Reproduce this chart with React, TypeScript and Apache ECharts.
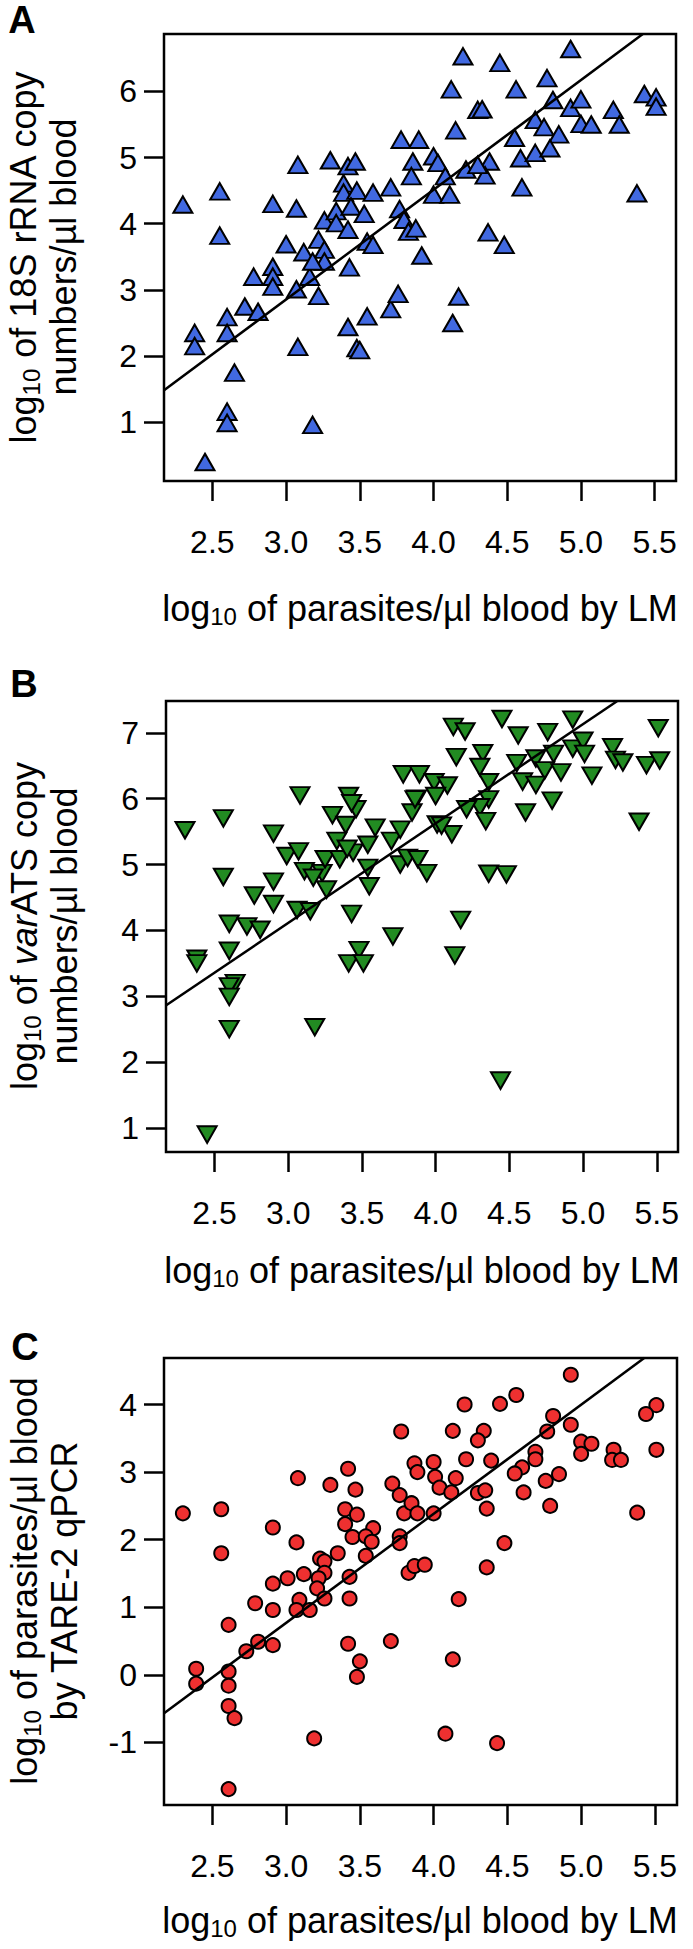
import React, { useEffect, useRef } from 'react';
import * as echarts from 'echarts';

// ---------- tick values ----------
const xTicks = [2.5, 3.0, 3.5, 4.0, 4.5, 5.0, 5.5];
const yTicksA = [1, 2, 3, 4, 5, 6];
const yTicksB = [1, 2, 3, 4, 5, 6, 7];
const yTicksC = [-1, 0, 1, 2, 3, 4];

// ---------- Panel A: 18S rRNA ----------
const aX = [2.30, 2.55, 2.55, 2.38, 2.38, 2.60, 2.60, 2.65, 2.60, 2.60, 2.45, 2.72, 2.81, 2.78, 2.91, 2.91, 2.91, 2.91, 3.07, 3.08, 3.00, 3.12, 3.07, 3.08, 3.18, 3.16, 3.22, 3.22, 3.26, 3.26, 3.18, 3.26, 3.30, 3.34, 3.34, 3.39, 3.39, 3.42, 3.47, 3.48, 3.44, 3.53, 3.42, 3.43, 3.42, 3.48, 3.50, 3.55, 3.55, 3.59, 3.59, 3.71, 3.71, 3.76, 3.78, 3.86, 3.85, 3.77, 3.80, 3.83, 3.92,
  3.90, 4.00, 4.03, 4.08, 4.00, 4.11, 3.88, 4.20, 4.45, 4.12, 4.56, 4.77, 4.93, 4.81, 4.93, 5.00, 4.30, 4.33, 4.15, 4.69, 4.75, 4.55, 4.85, 5.00, 5.07, 5.22, 5.26, 5.43, 5.51, 5.51, 4.59, 4.69, 4.79, 4.38, 4.35, 4.22, 4.30, 4.60, 5.38, 4.37, 4.48, 4.17, 4.13];
const aY = [4.29, 4.49, 3.82, 2.35, 2.15, 2.59, 2.35, 1.75, 1.16, 0.99, 0.40, 2.75, 2.67, 3.20, 3.35, 3.20, 3.05, 4.30, 4.23, 4.89, 3.69, 3.57, 3.01, 2.14, 0.96, 3.20, 2.91, 3.76, 3.61, 3.43, 3.43, 4.05, 4.96, 4.19, 4.01, 4.61, 4.47, 4.87, 4.94, 4.50, 4.26, 4.15, 3.91, 3.34, 2.44, 2.12, 2.09, 2.60, 3.73, 3.68, 4.47, 4.55, 2.71, 2.94, 5.27, 4.94, 4.72, 4.22, 4.06, 3.88, 3.52,
  5.27, 5.02, 4.92, 4.72, 4.44, 4.44, 3.93, 6.53, 6.43, 6.03, 6.03, 6.20, 6.64, 5.87, 5.75, 5.88, 5.72, 5.73, 5.41, 5.57, 5.46, 5.30, 5.35, 5.51, 5.50, 5.72, 5.50, 5.96, 5.91, 5.77, 4.99, 5.07, 5.14, 4.94, 4.73, 4.82, 4.89, 4.55, 4.46, 3.87, 3.68, 2.90, 2.50];
const aFitX = [2.17, 5.42];
const aFitY = [1.48, 6.867];

// ---------- Panel B: varATS ----------
const bX = [2.30, 2.56, 2.56, 2.38, 2.38, 2.60, 2.60, 2.64, 2.60, 2.60, 2.60, 2.72, 2.81, 2.77, 2.90, 2.90, 2.90, 2.99, 3.07, 3.08, 3.11, 3.06, 3.15, 3.18, 3.23, 3.25, 3.26, 3.30, 3.35, 3.33, 3.39, 3.41, 3.46, 3.44, 3.40, 3.43, 3.48, 3.41, 3.51, 3.54, 3.59, 3.54, 3.55, 3.71, 3.70, 3.76, 3.76, 3.78, 3.87, 3.81, 3.84, 3.43, 3.17,
  4.12, 4.20, 4.45, 4.56, 4.76, 4.93, 5.51, 4.14, 4.32, 4.30, 4.36, 4.55, 4.68, 4.80, 4.74, 4.85, 4.59, 4.68, 4.93, 5.00, 5.01, 5.06, 5.20, 5.22, 5.27, 5.43, 5.52, 4.79, 4.61, 5.38, 4.36, 4.30, 4.34, 4.21, 4.11, 4.01, 4.04, 3.89, 3.99, 4.08, 3.86, 4.00, 3.88, 3.94, 4.36, 4.48, 4.17, 4.13, 4.44, 2.45];
const bY = [5.52, 5.70, 4.81, 3.57, 3.50, 4.10, 3.69, 3.20, 3.15, 2.99, 2.50, 4.06, 4.01, 4.53, 4.74, 4.40, 5.47, 5.13, 5.20, 6.05, 4.90, 4.31, 4.29, 2.53, 4.87, 5.08, 4.62, 5.75, 5.08, 5.36, 5.60, 6.04, 5.84, 5.18, 5.24, 4.25, 3.70, 3.50, 3.50, 5.30, 5.56, 4.95, 4.67, 3.91, 5.36, 5.53, 5.00, 6.37, 6.00, 5.10, 5.79, 5.93, 4.80,
  7.09, 7.02, 7.21, 6.96, 7.01, 7.20, 7.07, 6.63, 6.69, 6.48, 6.25, 6.54, 6.61, 6.68, 6.43, 6.40, 6.26, 6.21, 6.76, 6.88, 6.68, 6.35, 6.78, 6.59, 6.55, 6.51, 6.58, 5.97, 5.79, 5.65, 5.99, 5.87, 5.66, 5.84, 5.46, 5.61, 5.59, 6.37, 6.25, 6.20, 5.99, 6.04, 5.08, 4.87, 4.86, 4.85, 4.16, 3.62, 1.72, 0.90];
const bFitX = [2.17, 5.23];
const bFitY = [2.86, 7.48];

// ---------- Panel C: TARE-2 qPCR ----------
const cX = [2.30, 2.56, 2.56, 2.39, 2.39, 2.61, 2.61, 2.61, 2.65, 2.61, 2.73, 2.81, 2.91, 2.79, 2.91, 2.91, 3.01, 2.91, 3.07, 3.08, 3.12, 3.09, 3.07, 3.16, 3.23, 3.26, 3.26, 3.22, 3.21, 3.26, 3.30, 3.35, 3.42, 3.40, 3.40, 3.47, 3.48, 3.45, 3.43, 3.43, 3.42, 3.50, 3.48, 3.59, 3.54, 3.58, 3.54, 3.71, 3.72, 3.78, 3.77, 3.80, 3.85, 3.77, 3.77, 3.83, 3.87, 3.87, 3.89, 3.19,
  4.21, 4.45, 4.56, 4.93, 4.13, 4.34, 4.30, 4.81, 4.77, 4.93, 5.51, 5.44, 5.51, 5.00, 5.07, 5.00, 5.22, 5.21, 5.27, 4.69, 4.69, 4.60, 4.55, 4.76, 4.85, 4.79, 4.61, 5.38, 4.22, 4.39, 4.00, 4.01, 4.04, 4.15, 4.12, 4.30, 4.35, 4.36, 4.00, 3.89, 4.48, 4.36, 3.94, 4.17, 4.13, 4.08, 4.43, 2.61];
const cY = [2.39, 2.45, 1.80, 0.09, -0.13, 0.05, -0.16, -0.46, -0.64, 0.74, 0.35, 0.49, 0.44, 1.06, 0.96, 1.35, 1.43, 2.18, 1.96, 2.91, 1.49, 1.11, 0.96, 0.96, 1.72, 1.68, 1.51, 1.43, 1.28, 1.13, 2.81, 1.80, 3.05, 2.45, 2.23, 2.74, 2.37, 2.04, 1.45, 1.13, 0.46, 0.20, -0.03, 2.17, 2.05, 1.97, 1.76, 0.50, 2.83, 3.60, 2.66, 2.39, 2.54, 2.05, 1.95, 1.51, 1.61, 3.13, 3.00, -0.94,
  4.00, 4.01, 4.14, 4.44, 3.61, 3.61, 3.47, 3.83, 3.60, 3.70, 3.99, 3.86, 3.33, 3.45, 3.42, 3.27, 3.33, 3.18, 3.18, 3.30, 3.19, 3.07, 2.98, 2.87, 2.97, 2.50, 2.70, 2.40, 3.19, 3.17, 3.15, 2.93, 2.77, 2.91, 2.70, 2.69, 2.73, 2.46, 2.39, 2.39, 1.95, 1.59, 1.63, 1.12, 0.23, -0.87, -1.01, -1.69];
const cFitX = [2.17, 5.43];
const cFitY = [-0.57, 4.69];

const FONT = '"Liberation Sans", Arial, Helvetica, sans-serif';

const zip = (xs: number[], ys: number[]) => xs.map((x, i) => [x, ys[i]]);

const panels = [
  { grid: { left: 164, top: 34, width: 512, height: 447 }, xMin: 2.172, xMax: 5.645, yMin: 0.113, yMax: 6.867, yTicks: yTicksA },
  { grid: { left: 166, top: 701, width: 512, height: 451 }, xMin: 2.171, xMax: 5.644, yMin: 0.635, yMax: 7.483, yTicks: yTicksB },
  { grid: { left: 164, top: 1358, width: 513, height: 447 }, xMin: 2.172, xMax: 5.65, yMin: -1.925, yMax: 4.688, yTicks: yTicksC },
];

const TF = 36;
const rich = {
  n: { fontSize: TF, lineHeight: 40, fontFamily: FONT, fill: '#000' },
  i: { fontSize: TF, lineHeight: 40, fontFamily: FONT, fontStyle: 'italic', fill: '#000' },
  s: { fontSize: 24, lineHeight: 16, verticalAlign: 'bottom', fontFamily: FONT, fill: '#000' },
};

const xTitle = '{n|log}{s|10}{n| of parasites/µl blood by LM}';

function textEl(x: number, y: number, text: string, rotation = 0) {
  return {
    type: 'text', x, y, rotation, silent: true,
    style: { text, rich, align: 'center', verticalAlign: 'middle', fill: '#000', fontFamily: FONT, fontSize: TF },
  };
}

function letterEl(x: number, y: number, text: string) {
  return {
    type: 'text', x, y, silent: true,
    style: { text, fontSize: 38, fontWeight: 'bold', fontFamily: FONT, fill: '#000', align: 'center', verticalAlign: 'middle' },
  };
}

export default function App() {
  const ref = useRef<HTMLDivElement>(null);
  useEffect(() => {
    if (!ref.current) return;
    const chart = echarts.init(ref.current, null, { renderer: 'svg' });
    const tickStyle = { color: '#000', width: 2.5 };
    const option: any = {
      animation: false,
      backgroundColor: '#fff',
      grid: panels.map(p => ({ ...p.grid, show: true, borderColor: '#000', borderWidth: 2.5, backgroundColor: 'transparent' })),
      xAxis: panels.map((p, i) => ({
        type: 'value', gridIndex: i, min: p.xMin, max: p.xMax,
        axisLine: { show: false, onZero: false },
        axisTick: { show: true, length: 20, inside: false, lineStyle: tickStyle, customValues: xTicks },
        axisLabel: { customValues: xTicks, formatter: (v: number) => v.toFixed(1), fontSize: 32, color: '#000', fontFamily: FONT, margin: 45 },
        splitLine: { show: false },
      })),
      yAxis: panels.map((p, i) => ({
        type: 'value', gridIndex: i, min: p.yMin, max: p.yMax,
        axisLine: { show: false, onZero: false },
        axisTick: { show: true, length: 20, inside: false, lineStyle: tickStyle, customValues: p.yTicks },
        axisLabel: { customValues: p.yTicks, formatter: (v: number) => String(v), fontSize: 32, color: '#000', fontFamily: FONT, margin: 27 },
        splitLine: { show: false },
      })),
      series: [
        { type: 'scatter', xAxisIndex: 0, yAxisIndex: 0, data: zip(aX, aY), symbol: 'triangle', symbolSize: [19, 16.5],
          itemStyle: { color: '#4169E1', borderColor: '#000', borderWidth: 2, opacity: 1 }, silent: true },
        { type: 'line', xAxisIndex: 0, yAxisIndex: 0, data: zip(aFitX, aFitY), symbol: 'none', z: 5,
          lineStyle: { color: '#000', width: 2.5 }, silent: true },
        { type: 'scatter', xAxisIndex: 1, yAxisIndex: 1, data: zip(bX, bY), symbol: 'triangle', symbolRotate: 180, symbolSize: [19, 16.5],
          itemStyle: { color: '#228B22', borderColor: '#000', borderWidth: 2, opacity: 1 }, silent: true },
        { type: 'line', xAxisIndex: 1, yAxisIndex: 1, data: zip(bFitX, bFitY), symbol: 'none', z: 5,
          lineStyle: { color: '#000', width: 2.5 }, silent: true },
        { type: 'scatter', xAxisIndex: 2, yAxisIndex: 2, data: zip(cX, cY), symbol: 'circle', symbolSize: 14,
          itemStyle: { color: '#EE3030', borderColor: '#000', borderWidth: 2, opacity: 1 }, silent: true },
        { type: 'line', xAxisIndex: 2, yAxisIndex: 2, data: zip(cFitX, cFitY), symbol: 'none', z: 5,
          lineStyle: { color: '#000', width: 2.5 }, silent: true },
      ],
      graphic: [
        letterEl(22, 20, 'A'),
        letterEl(24, 684, 'B'),
        letterEl(25, 1347, 'C'),
        textEl(43, 257, '{n|log}{s|10}{n| of 18S rRNA copy}\n{n|numbers/µl blood}', Math.PI / 2),
        textEl(44, 926, '{n|log}{s|10}{n| of }{i|var}{n|ATS copy}\n{n|numbers/µl blood}', Math.PI / 2),
        textEl(44, 1581, '{n|log}{s|10}{n| of parasites/µl blood}\n{n|by TARE-2 qPCR}', Math.PI / 2),
        textEl(420, 608, xTitle),
        textEl(422, 1270, xTitle),
        textEl(420, 1920, xTitle),
      ],
    };
    chart.setOption(option);
    return () => chart.dispose();
  }, []);
  return <div ref={ref} style={{ position: 'absolute', left: 0, top: 0, width: 693, height: 1949 }} />;
}
